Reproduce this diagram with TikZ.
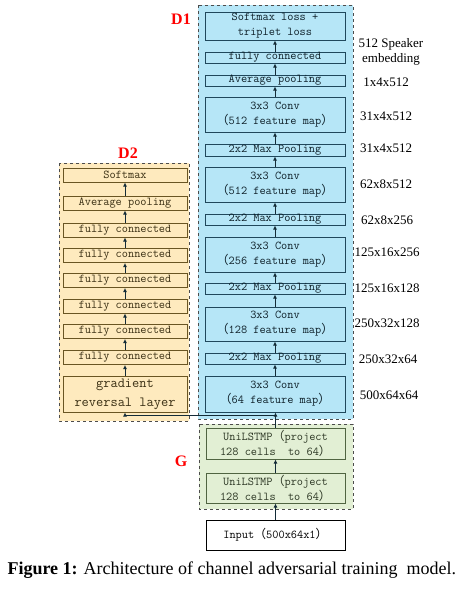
\documentclass[tikz,border=0pt]{standalone}
\usepackage{fontspec}
\setmainfont{Liberation Serif}
\newfontfamily\cjk{Noto Sans CJK SC}
\usetikzlibrary{arrows.meta}

\definecolor{dblue}{RGB}{182,230,247}
\definecolor{dblueline}{RGB}{32,72,92}
\definecolor{dbeige}{RGB}{254,234,190}
\definecolor{dbeigeline}{RGB}{105,85,35}
\definecolor{dgreen}{RGB}{226,239,212}
\definecolor{dgreenline}{RGB}{80,100,65}

% full width brackets
\newcommand{\fwlp}{{\cjk （}}
\newcommand{\fwrp}{{\cjk ）}}

\tikzset{
    container/.style={draw=black!70, dashed, line width=0.8pt},
    layerbox/.style={draw, line width=1pt, inner sep=0pt, align=center,
        font=\ttfamily\fontsize{12}{15}\selectfont},
    blueblock/.style={layerbox, draw=dblueline, fill=dblue, text=dblueline!45!black,
        minimum width=140pt},
    beigeblock/.style={layerbox, draw=dbeigeline, fill=dbeige, text=dbeigeline!55!black,
        minimum width=124pt},
    greenblock/.style={layerbox, draw=dgreenline, fill=dgreen, text=dgreenline!55!black,
        minimum width=139pt},
    shapelabel/.style={font=\fontsize{13}{15}\selectfont, align=center},
    grouplabel/.style={text=red, font=\bfseries\fontsize{16}{18}\selectfont},
    flow/.style={-{Latex[length=4pt,width=4pt]}, line width=0.8pt, draw=dblueline!60!black},
}

\begin{document}
\begin{tikzpicture}[x=1pt, y=-1pt]
    \useasboundingbox (0,0) rectangle (475,590);

    % group frames
    \draw[container, fill=dblue] (198,5) rectangle (353,419);
    \draw[container, fill=dbeige] (59,163) rectangle (189,421);
    \draw[container, fill=dgreen] (199,424) rectangle (353,509);

    \node[grouplabel] (labD1) at (181,19) {D1};
    \node[grouplabel] (labD2) at (128,153) {D2};
    \node[grouplabel] (labG) at (181,461) {G};

    % D1 column
    \node[blueblock, minimum height=28pt] (loss) at (275,26) {Softmax loss +\\triplet loss};
    \node[blueblock, minimum height=11pt] (fc) at (275,57.5) {fully connected};
    \node[blueblock, minimum height=11pt] (avgpool) at (275,80.5) {Average pooling};
    \node[blueblock, minimum height=35pt] (convA) at (275,114.5) {3x3 Conv\\\fwlp 512 feature map\fwrp};
    \node[blueblock, minimum height=12pt] (poolA) at (275,150) {2x2 Max Pooling};
    \node[blueblock, minimum height=35pt] (convB) at (275,184.5) {3x3 Conv\\\fwlp 512 feature map\fwrp};
    \node[blueblock, minimum height=11pt] (poolB) at (275,219.5) {2x2 Max Pooling};
    \node[blueblock, minimum height=35pt] (convC) at (275,254.5) {3x3 Conv\\\fwlp 256 feature map\fwrp};
    \node[blueblock, minimum height=11pt] (poolC) at (275,288.5) {2x2 Max Pooling};
    \node[blueblock, minimum height=34pt] (convD) at (275,324) {3x3 Conv\\\fwlp 128 feature map\fwrp};
    \node[blueblock, minimum height=11pt] (poolD) at (275,358.5) {2x2 Max Pooling};
    \node[blueblock, minimum height=36pt] (convE) at (275,394) {3x3 Conv\\\fwlp 64 feature map\fwrp};

    % D2 column
    \node[beigeblock, minimum height=14pt] (softmax) at (125,175) {Softmax};
    \node[beigeblock, minimum height=14pt] (avgD) at (125,203) {Average pooling};
    \node[beigeblock, minimum height=14pt] (fcA) at (125,230) {fully connected};
    \node[beigeblock, minimum height=14pt] (fcB) at (125,255.5) {fully connected};
    \node[beigeblock, minimum height=14pt] (fcC) at (125,280.5) {fully connected};
    \node[beigeblock, minimum height=14pt] (fcD) at (125,306) {fully connected};
    \node[beigeblock, minimum height=14pt] (fcE) at (125,331.5) {fully connected};
    \node[beigeblock, minimum height=14pt] (fcF) at (125,357.5) {fully connected};
    \node[beigeblock, minimum height=36pt, font=\ttfamily\fontsize{14}{19}\selectfont] (grl) at (125,394) {gradient\\reversal layer};

    % G column
    \node[greenblock, minimum height=31pt] (lstmA) at (275.5,443.5) {UniLSTMP\fwlp project\\128 cells\ \ to 64\fwrp};
    \node[greenblock, minimum height=30pt] (lstmB) at (275.5,488) {UniLSTMP\fwlp project\\128 cells\ \ to 64\fwrp};
    \node[layerbox, fill=white, draw=black, minimum width=139pt, minimum height=30pt] (input) at (275.5,535) {Input\fwlp 500x64x1\fwrp};

    % shapes on the right
    \node[shapelabel] (shLoss) at (391,52) {512 Speaker\\embedding};
    \node[shapelabel] (shAvg) at (386,82) {1x4x512};
    \node[shapelabel] (shConvA) at (386,116) {31x4x512};
    \node[shapelabel] (shPoolA) at (386,148) {31x4x512};
    \node[shapelabel] (shConvB) at (386,184) {62x8x512};
    \node[shapelabel] (shPoolB) at (387,220) {62x8x256};
    \node[shapelabel] (shConvC) at (387,252) {125x16x256};
    \node[shapelabel] (shPoolC) at (387,288) {125x16x128};
    \node[shapelabel] (shConvD) at (387,323) {250x32x128};
    \node[shapelabel] (shPoolD) at (388,359) {250x32x64};
    \node[shapelabel] (shConvE) at (389,395) {500x64x64};

    % connections
    \foreach \a/\b in {convE/poolD, poolD/convD, convD/poolC, poolC/convC, convC/poolB,
        poolB/convB, convB/poolA, poolA/convA, convA/avgpool, avgpool/fc, fc/loss}
        \draw[flow] (\a) -- (\b);
    \foreach \a/\b in {grl/fcF, fcF/fcE, fcE/fcD, fcD/fcC, fcC/fcB, fcB/fcA, fcA/avgD, avgD/softmax}
        \draw[flow] (\a) -- (\b);
    \draw[flow] (input) -- (lstmB);
    \draw[flow] (lstmB) -- (lstmA);
    \draw[flow] (lstmA.north) -- (lstmA.north |- convE.south);
    \coordinate (split) at (lstmA.north |- 0,415);
    \draw[flow] (split) -| (grl.south);

    \node[anchor=west, font=\fontsize{18}{20}\selectfont] (caption) at (4,570)
        {\textbf{Figure 1:} Architecture of channel adversarial training\ \ model.};
\end{tikzpicture}
\end{document}
